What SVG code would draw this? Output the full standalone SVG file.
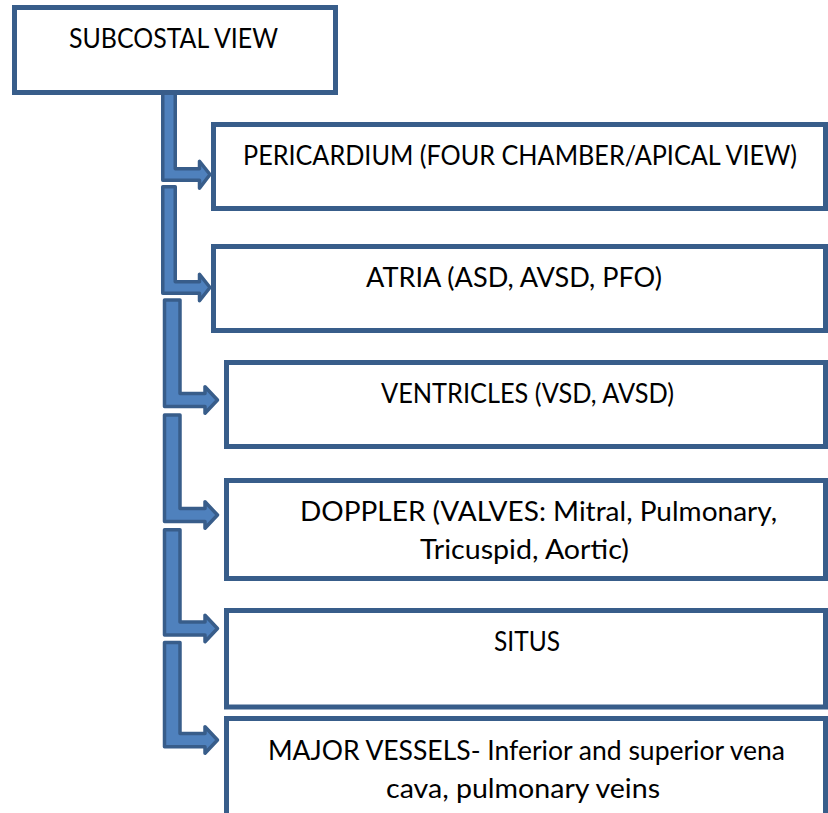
<svg xmlns="http://www.w3.org/2000/svg" width="828" height="813" viewBox="0 0 828 813">
<style>
.box{fill:#ffffff;stroke:#385D8A;stroke-width:5}
.arr{fill:#4F81BD;stroke:#385D8A;stroke-width:3.5;stroke-linejoin:round}
.t{font-family:Lato,"Open Sans","Liberation Sans",sans-serif;font-size:26px;fill:#000000;text-anchor:middle}
</style>
<rect width="828" height="813" fill="#ffffff"/>
<g id="connectors">
<path class="arr" d="M162.75,93 V180.25 H199.5 V188.25 L210,174.5 L199.5,161.25 V168.75 H175.25 V93 Z"/>
<path class="arr" d="M162.75,186.75 V293.25 H199.5 V300.75 L210,287.5 L199.5,274.25 V281.75 H175.25 V186.75 Z"/>
<path class="arr" d="M164.5,300 V406.5 H205 V413.25 L217.5,400 L205,386.75 V393.5 H180 V300 Z"/>
<path class="arr" d="M164.5,415 V521.5 H205 V528.25 L217.5,515 L205,501.75 V508.5 H180 V415 Z"/>
<path class="arr" d="M164.5,529.75 V635 H205 V641.75 L217.5,628.5 L205,615.25 V622 H180 V529.75 Z"/>
<path class="arr" d="M164.5,642.5 V746.75 H205 V753.25 L217.5,740 L205,726.75 V733.5 H180 V642.5 Z"/>
</g>
<g id="node-subcostal">
<rect class="box" x="14.5" y="7.5" width="321" height="85"/>
<text class="t" x="173.5" y="48" textLength="209" lengthAdjust="spacingAndGlyphs">SUBCOSTAL VIEW</text>
</g>
<g id="node-pericardium">
<rect class="box" x="213.5" y="124.5" width="612" height="84"/>
<text class="t" x="520" y="165" textLength="554" lengthAdjust="spacingAndGlyphs">PERICARDIUM (FOUR CHAMBER/APICAL VIEW)</text>
</g>
<g id="node-atria">
<rect class="box" x="213.5" y="246.5" width="612" height="84"/>
<text class="t" x="514" y="287" textLength="296" lengthAdjust="spacingAndGlyphs">ATRIA (ASD, AVSD, PFO)</text>
</g>
<g id="node-ventricles">
<rect class="box" x="226.5" y="362.5" width="599" height="84"/>
<text class="t" x="527.5" y="403" textLength="293" lengthAdjust="spacingAndGlyphs">VENTRICLES (VSD, AVSD)</text>
</g>
<g id="node-doppler">
<rect class="box" x="226.5" y="480.5" width="599" height="98"/>
<text class="t" x="538.5" y="521" textLength="477" lengthAdjust="spacingAndGlyphs">DOPPLER (VALVES: Mitral, Pulmonary,</text>
<text class="t" x="524.5" y="559" textLength="209" lengthAdjust="spacingAndGlyphs">Tricuspid, Aortic)</text>
</g>
<g id="node-situs">
<rect class="box" x="226.5" y="610.5" width="599" height="96.5"/>
<text class="t" x="527" y="651" textLength="66" lengthAdjust="spacingAndGlyphs">SITUS</text>
</g>
<g id="node-vessels">
<rect class="box" x="226.5" y="718.5" width="599" height="120"/>
<text class="t" x="526.5" y="760" textLength="517" lengthAdjust="spacingAndGlyphs">MAJOR VESSELS- Inferior and superior vena</text>
<text class="t" x="523" y="798" textLength="274" lengthAdjust="spacingAndGlyphs">cava, pulmonary veins</text>
</g>
</svg>
